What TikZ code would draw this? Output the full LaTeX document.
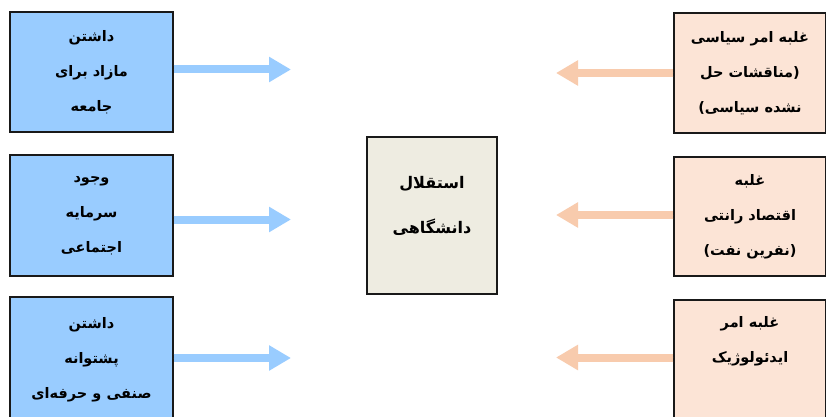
\documentclass[tikz,border=0pt]{standalone}
\usepackage{fontspec}
\usetikzlibrary{arrows.meta}
\TeXXeTstate=1
\newfontfamily\arabicfont[Script=Arabic]{DejaVu Sans}
\newcommand{\rtltext}[1]{\beginR #1\endR}
\definecolor{boxblue}{HTML}{99CCFF}
\definecolor{boxpeach}{HTML}{FCE4D6}
\definecolor{arrowpeach}{HTML}{F8CBAD}
\definecolor{boxcream}{HTML}{EEECE1}
\tikzset{
  sidebox/.style={draw=black!90, line width=1.3pt, rectangle, align=center,
    inner sep=0pt, font=\arabicfont\bfseries\fontsize{14.5}{35}\selectfont},
  leftbox/.style={sidebox, fill=boxblue, minimum width=163pt},
  rightbox/.style={sidebox, fill=boxpeach, minimum width=152pt},
  centerbox/.style={draw=black!90, line width=1.3pt, rectangle,
    fill=boxcream, minimum width=130pt, minimum height=157pt, inner sep=0pt},
  centertext/.style={align=center, inner sep=0pt,
    font=\arabicfont\bfseries\fontsize{16}{45}\selectfont},
  fatarrow/.style={line width=8pt, -{Triangle[width=24pt,length=22pt]}},
  bluearrow/.style={fatarrow, draw=boxblue, fill=boxblue},
  peacharrow/.style={fatarrow, draw=arrowpeach, fill=arrowpeach},
}
\begin{document}
\begin{tikzpicture}[x=1pt,y=-1pt]
\useasboundingbox (0,0) rectangle (826,417);
\clip (0,0) rectangle (826,417);
\fill[white] (0,0) rectangle (826,417);
% left boxes
\node[leftbox, minimum height=120pt] (L1) at (91.5,72) {\rtltext{داشتن}\\\rtltext{مازاد برای}\\\rtltext{جامعه}};
\node[leftbox, minimum height=121pt] (L2) at (91.5,215.5) {\rtltext{وجود}\\\rtltext{سرمایه}\\\rtltext{اجتماعی}};
\node[leftbox, minimum height=126pt] (L3) at (91.5,360) {\rtltext{داشتن}\\\rtltext{پشتوانه}\\\rtltext{صنفی و حرفه‌ای}};
% right boxes
\node[rightbox, minimum height=120pt] (R1) at (750,73) {\rtltext{غلبه امر سیاسی}\\\rtltext{(مناقشات حل}\\\rtltext{نشده سیاسی)}};
\node[rightbox, minimum height=119pt] (R2) at (750,216.5) {\rtltext{غلبه}\\\rtltext{اقتصاد رانتی}\\\rtltext{(نفرین نفت)}};
\node[rightbox, minimum height=124pt] (R3) at (750,362) {\rtltext{غلبه امر}\\\rtltext{ایدئولوژیک}\\\strut};
% center box
\node[centerbox] (C) at (432,215.5) {};
\node[centertext] (Ct) at (432,206) {\rtltext{استقلال}\\\rtltext{دانشگاهی}};
% arrow end points
\coordinate (a1) at (291,69.5);
\coordinate (a2) at (291,219.5);
\coordinate (a3) at (291,358);
\coordinate (b1) at (556,73);
\coordinate (b2) at (556,215);
\coordinate (b3) at (556,357.5);
\draw[bluearrow] (L1.east |- a1) -- (a1);
\draw[bluearrow] (L2.east |- a2) -- (a2);
\draw[bluearrow] (L3.east |- a3) -- (a3);
\draw[peacharrow] (R1.west |- b1) -- (b1);
\draw[peacharrow] (R2.west |- b2) -- (b2);
\draw[peacharrow] (R3.west |- b3) -- (b3);
\end{tikzpicture}
\end{document}
